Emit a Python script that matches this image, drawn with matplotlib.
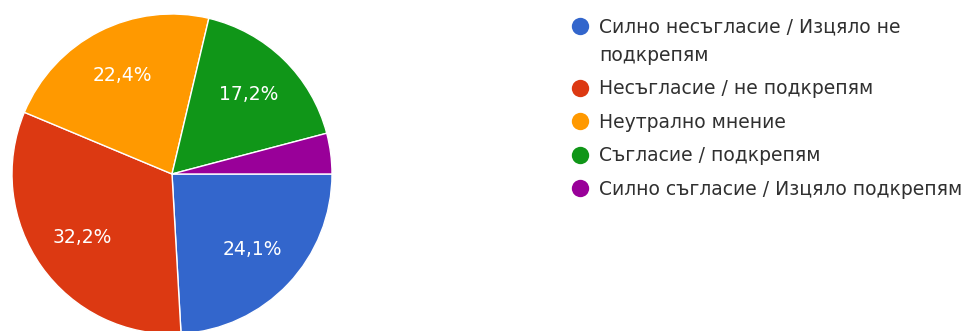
import matplotlib
matplotlib.use("Agg")
import matplotlib.pyplot as plt
from matplotlib.lines import Line2D

plt.rcParams['font.family'] = ['DejaVu Sans']

categories = [
    "Силно несъгласие / Изцяло не\nподкрепям",
    "Несъгласие / не подкрепям",
    "Неутрално мнение",
    "Съгласие / подкрепям",
    "Силно съгласие / Изцяло подкрепям",
]
values = [24.1, 32.2, 22.4, 17.2, 4.1]
colors = ["#3366cc", "#dc3912", "#ff9900", "#109618", "#990099"]

W, H = 963, 331
fig = plt.figure(figsize=(W / 100, H / 100), dpi=100)
fig.patch.set_facecolor("white")

cx, cy, r = 172, 174, 160
ax = fig.add_axes([(cx - r) / W, (H - cy - r) / H, 2 * r / W, 2 * r / H])


def fmt(p):
    return (f"{p:.1f}%".replace(".", ",")) if p >= 5 else ""


ax.pie(values, colors=colors, startangle=0, counterclock=False,
       autopct=fmt, pctdistance=0.69,
       wedgeprops=dict(edgecolor="white", linewidth=1),
       textprops=dict(color="white", fontsize=13.5))
ax.set_xlim(-1, 1)
ax.set_ylim(-1, 1)
ax.set_aspect("equal")
ax.axis("off")

# legend drawn manually so the marker aligns with the first text line
lax = fig.add_axes([0, 0, 1, 1])
lax.set_xlim(0, W)
lax.set_ylim(H, 0)
lax.axis("off")
fs = 13.5
cap_half = 0.729 * fs * 100 / 72 / 2
y = 26
entry_gap = 33.5
line_gap = 28
for lab, col in zip(categories, colors):
    lax.add_line(Line2D([580], [y], marker="o", markersize=12.5,
                        color=col, markeredgewidth=0))
    lines = lab.split("\n")
    for k, line in enumerate(lines):
        lax.text(599, y + k * line_gap + cap_half, line, fontsize=fs,
                 color="#303030", va="baseline")
    y += entry_gap + (len(lines) - 1) * line_gap

fig.savefig("out.png", dpi=100, facecolor="white")
